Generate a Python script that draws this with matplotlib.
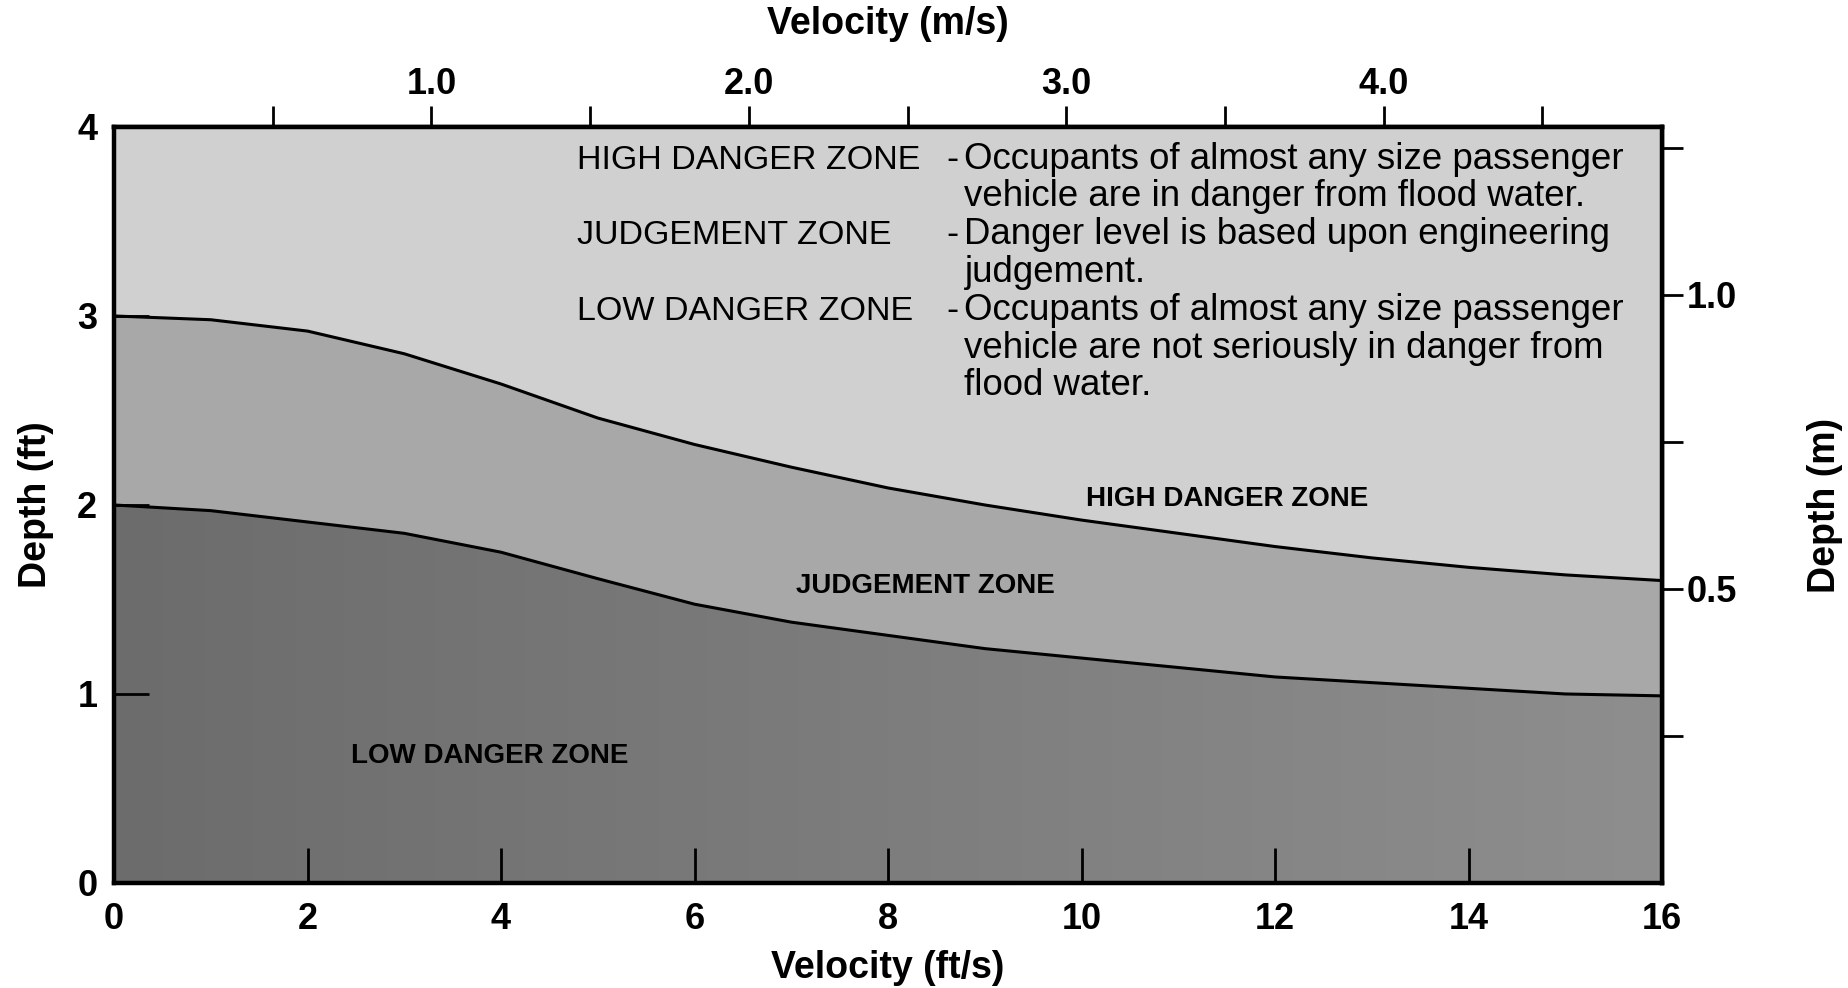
import numpy as np
import matplotlib as mpl
import matplotlib.pyplot as plt

mpl.rcParams.update({'font.family': ['Liberation Sans', 'DejaVu Sans'], 'font.size': 22})

# velocity (ft/s) and zone boundaries (ft)
velocity = [0, 1, 2, 3, 4, 5, 6, 7, 8, 9, 10, 11, 12, 13, 14, 15, 16]
upper_bound = [3.0, 2.98, 2.92, 2.80, 2.64, 2.46, 2.32, 2.20, 2.09, 2.0, 1.92,
               1.85, 1.78, 1.72, 1.67, 1.63, 1.60]
lower_bound = [2.0, 1.97, 1.91, 1.85, 1.75, 1.61, 1.475, 1.38, 1.31, 1.24, 1.19,
               1.14, 1.09, 1.06, 1.03, 1.0, 0.99]

ft_ticks = [0, 2, 4, 6, 8, 10, 12, 14, 16]
depth_ticks = [0, 1, 2, 3, 4]
ms_ticks = [0.5, 1.0, 1.5, 2.0, 2.5, 3.0, 3.5, 4.0, 4.5]
ms_labels = ['', '1.0', '', '2.0', '', '3.0', '', '4.0', '']
m_ticks = [0.25, 0.5, 0.75, 1.0, 1.25]
m_labels = ['', '0.5', '', '1.0', '']

legend_rows = [
    ('HIGH DANGER ZONE', 'Occupants of almost any size passenger'),
    ('', 'vehicle are in danger from flood water.'),
    ('JUDGEMENT ZONE', 'Danger level is based upon engineering'),
    ('', 'judgement.'),
    ('LOW DANGER ZONE', 'Occupants of almost any size passenger'),
    ('', 'vehicle are not seriously in danger from'),
    ('', 'flood water.'),
]

FT_TO_M = 0.3048
M_PER_FT_PRINTED = 0.3213  # right-hand scale as drawn on the original

fig = plt.figure(figsize=(18.48, 9.88), dpi=100)
ax = fig.add_axes([0.0617, 0.1063, 0.8377, 0.7652])

ax.fill_between(velocity, upper_bound, 4, color='#d0d0d0', lw=0, zorder=1)
ax.fill_between(velocity, lower_bound, upper_bound, color='#a8a8a8', lw=0, zorder=1)
low = ax.fill_between(velocity, 0, lower_bound, color='#858585', lw=0, zorder=1)

# darker shading towards the left of the low zone
grad = np.tile(np.linspace(0, 1, 256), (2, 1))
im = ax.imshow(grad, extent=[0, 16, 0, 4], aspect='auto', origin='lower',
               cmap=mpl.colors.LinearSegmentedColormap.from_list('g', ['#6c6c6c', '#8e8e8e']),
               zorder=1.5)
im.set_clip_path(low.get_paths()[0], transform=ax.transData)

ax.plot(velocity, upper_bound, color='black', lw=2.2, zorder=3)
ax.plot(velocity, lower_bound, color='black', lw=2.2, zorder=3)

ax.set_xlim(0, 16)
ax.set_ylim(0, 4)
ax.set_xticks(ft_ticks)
ax.set_yticks(depth_ticks)
for s in ax.spines.values():
    s.set_linewidth(3.2)
    s.set_zorder(5)
ax.tick_params(axis='x', direction='in', length=25, width=2, pad=14, labelsize=26)
ax.tick_params(axis='y', direction='in', length=25, width=2, pad=12, labelsize=26)
for lab in ax.get_xticklabels() + ax.get_yticklabels():
    lab.set_fontweight('bold')
ax.set_xlabel('Velocity (ft/s)', fontsize=27, fontweight='bold', labelpad=9)
ax.set_ylabel('Depth (ft)', fontsize=27, fontweight='bold', labelpad=17)

top = ax.secondary_xaxis('top', functions=(lambda v: v * FT_TO_M, lambda v: v / FT_TO_M))
top.set_xticks(ms_ticks)
top.set_xticklabels(ms_labels, fontweight='bold', fontsize=26)
top.tick_params(direction='out', length=15, width=2, pad=3)
top.spines['top'].set_linewidth(3.2)
top.set_xlabel('Velocity (m/s)', fontsize=27, fontweight='bold', labelpad=24)

right = ax.secondary_yaxis('right', functions=(lambda d: d * M_PER_FT_PRINTED,
                                               lambda d: d / M_PER_FT_PRINTED))
right.set_yticks(m_ticks)
right.set_yticklabels(m_labels, fontweight='bold', fontsize=26)
right.tick_params(direction='out', length=15, width=2, pad=3)
right.spines['right'].set_linewidth(3.2)
right.set_ylabel('Depth (m)', fontsize=27, fontweight='bold', labelpad=50)

# explanatory block
for i, (zone, desc) in enumerate(legend_rows):
    y = 3.78 - 0.2 * i
    if zone:
        ax.text(4.79, y, zone, fontsize=24.5, va='baseline', ha='left', zorder=4)
        ax.text(8.67, y, '-', fontsize=26, va='baseline', ha='center', zorder=4)
    ax.text(8.79, y, desc, fontsize=26.4, va='baseline', ha='left', zorder=4)

ax.text(11.5, 2.03, 'HIGH DANGER ZONE', fontsize=20, fontweight='bold', ha='center', va='center', zorder=4)
ax.text(8.39, 1.57, 'JUDGEMENT ZONE', fontsize=20, fontweight='bold', ha='center', va='center', zorder=4)
ax.text(3.88, 0.67, 'LOW DANGER ZONE', fontsize=20, fontweight='bold', ha='center', va='center', zorder=4)

fig.savefig('out.png', dpi=100)
